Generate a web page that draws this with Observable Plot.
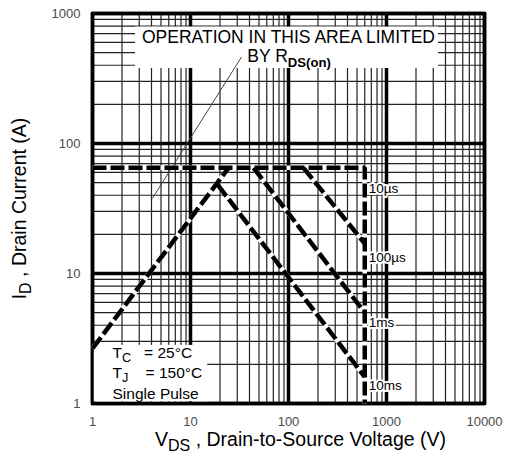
<!DOCTYPE html>
<html><head><meta charset="utf-8">
<script src="https://cdn.jsdelivr.net/npm/d3@7"></script>
<script src="https://cdn.jsdelivr.net/npm/@observablehq/plot@0.6"></script>
<style>
html,body{margin:0;padding:0;background:#fff;}
svg text{white-space:pre;}
</style></head><body><div id="chart"></div>
<script>
// ---- axis ticks / grid values ----
const vdsTicks = [1, 10, 100, 1000, 10000];
const idTicks = [1, 10, 100, 1000];
const vdsMinor = [2,3,4,5,6,7,8,9,20,30,40,50,60,70,80,90,200,300,400,500,600,700,800,900,2000,3000,4000,5000,6000,7000,8000,9000];
const idMinor = [2,3,4,5,6,7,8,9,20,30,40,50,60,70,80,90,200,300,400,500,600,700,800,900];

// ---- SOA boundary curves (VDS in V, ID in A) ----
const curveNames = ["RDS(on) limit", "10µs", "100µs", "1ms", "10ms"];
const curveVds = [[1, 24.5], [1, 600, 600], [142, 600], [44, 600], [19, 600]];
const curveId  = [[2.65, 65], [65, 65, 1], [65, 17], [65, 5.0], [48, 1.6]];

// thin RDS(on) pointer line
const pointerVds = [4.1, 33];
const pointerId = [38, 460];

// pulse-width labels
const pulseLabels = ["10µs", "100µs", "1ms", "10ms"];
const pulseLabelVds = [600, 600, 600, 600];
const pulseLabelId = [45, 13.3, 4.2, 1.37];

// area note
const noteText = ["OPERATION IN THIS AREA LIMITED", "BY R_!{DS(on)}"];
const noteVds = [100, 38];
const noteId = [660, 464];

// conditions
const condText = ["T_{C}   = 25°C", "T_{J}    = 150°C", "Single Pulse"];
const condVds = [1.6, 1.6, 1.6];
const condId = [2.45, 1.73, 1.19];

const xLabel = "V_{DS} , Drain-to-Source Voltage (V)";
const yLabel = "I_{D} , Drain Current (A)";

// ---- build tables ----
const curveRows = curveNames.flatMap((name, i) =>
  curveVds[i].map((v, j) => ({name, vds: v, id: curveId[i][j]})));
const pointerRows = pointerVds.map((v, i) => ({vds: v, id: pointerId[i]}));
const pulseRows = pulseLabels.map((t, i) => ({t, vds: pulseLabelVds[i], id: pulseLabelId[i]}));
const noteRows = noteText.map((t, i) => ({t, vds: noteVds[i], id: noteId[i]}));
const condRows = condText.map((t, i) => ({t, vds: condVds[i], id: condId[i]}));

const font = "'Liberation Sans', Arial, Helvetica, sans-serif";
const M = {left: 92, right: 25, top: 13, bottom: 57, width: 509, height: 460};

const chart = Plot.plot({
  width: M.width,
  height: M.height,
  marginLeft: M.left,
  marginRight: M.right,
  marginTop: M.top,
  marginBottom: M.bottom,
  style: {fontFamily: font, fontSize: "13px", color: "#4a4a4a", background: "white", overflow: "visible"},
  x: {type: "log", domain: [1, 10000], ticks: vdsTicks, tickFormat: d => String(d), tickSize: 0, tickPadding: 13, label: null},
  y: {type: "log", domain: [1, 1000], ticks: idTicks, tickFormat: d => String(d), tickSize: 0, tickPadding: 12, label: null},
  marks: [
    Plot.ruleX(vdsMinor, {stroke: "#222", strokeWidth: 1.2}),
    Plot.ruleY(idMinor, {stroke: "#222", strokeWidth: 1.2}),
    Plot.ruleX(vdsTicks, {stroke: "black", strokeWidth: 3.5}),
    Plot.ruleY(idTicks, {stroke: "black", strokeWidth: 3.5}),
    Plot.frame({stroke: "black", strokeWidth: 3.5}),
    Plot.line(pointerRows, {x: "vds", y: "id", stroke: "#444", strokeWidth: 1}),
    Plot.line(curveRows, {x: "vds", y: "id", z: "name", stroke: "white", strokeWidth: 4.5, strokeLinecap: "butt", strokeLinejoin: "miter"}),
    Plot.line(curveRows, {x: "vds", y: "id", z: "name", stroke: "black", strokeWidth: 4.5, strokeDasharray: "14,4", strokeLinecap: "butt", strokeLinejoin: "miter"}),
    Plot.text(noteRows.slice(0, 1), {x: "vds", y: "id", text: "t", lineAnchor: "middle", textAnchor: "middle", fontSize: 17.5, fill: "black"}),
    Plot.text(noteRows.slice(1), {x: "vds", y: "id", text: "t", lineAnchor: "middle", textAnchor: "start", fontSize: 17.5, fill: "black"}),
    Plot.text(condRows, {x: "vds", y: "id", text: "t", lineAnchor: "middle", textAnchor: "start", fontSize: 15.5, fill: "black"}),
    Plot.text(pulseRows, {x: "vds", y: "id", text: "t", lineAnchor: "middle", textAnchor: "start", dx: 4, fontSize: 13.5, fill: "black", stroke: "white", strokeWidth: 4, strokeLinejoin: "round"}),
    Plot.text([xLabel], {frameAnchor: "bottom", text: d => d, textAnchor: "middle", lineAnchor: "middle", dx: 12, dy: 36, fontSize: 19.5, fill: "black"}),
    Plot.text([yLabel], {frameAnchor: "left", text: d => d, textAnchor: "middle", lineAnchor: "middle", rotate: -90, dx: -73, fontSize: 19.5, fill: "black"})
  ]
});

document.getElementById("chart").appendChild(chart);

const stripMarks = s => s.replace(/_!?\{([^}]*)\}/g, "$1");

// subscripts: "_{..}" normal, "_!{..}" bold
function subscriptify(svg) {
  svg.querySelectorAll("text").forEach(t => {
    const s = t.textContent;
    if (!/_!?\{/.test(s)) return;
    const fs = parseFloat(getComputedStyle(t).fontSize) || 16;
    const shift = 0.26 * fs;
    while (t.firstChild) t.removeChild(t.firstChild);
    const ns = "http://www.w3.org/2000/svg";
    const re = /_(!?)\{([^}]*)\}/g;
    let last = 0, m, pendingDy = 0;
    const add = (str, dy, size, bold) => {
      const sp = document.createElementNS(ns, "tspan");
      sp.textContent = str;
      if (dy) sp.setAttribute("dy", dy);
      if (size) sp.setAttribute("font-size", size);
      if (bold) sp.setAttribute("font-weight", "bold");
      t.appendChild(sp);
    };
    while ((m = re.exec(s))) {
      if (m.index > last) { add(s.slice(last, m.index), pendingDy); pendingDy = 0; }
      add(m[2], shift + pendingDy, m[1] ? 0.75 * fs : 0.82 * fs, !!m[1]);
      pendingDy = -shift;
      last = re.lastIndex;
    }
    if (last < s.length) add(s.slice(last), pendingDy);
  });
}
subscriptify(chart);

// white background panels behind the boxed annotations (sized from the text extents)
function topChild(el) {
  while (el.parentNode && el.parentNode !== chart) el = el.parentNode;
  return el;
}
function addPanel(texts, pad) {
  const wanted = new Set(texts.map(stripMarks));
  const els = [...chart.querySelectorAll("text")].filter(t => wanted.has(t.textContent));
  if (!els.length) return;
  const inv = chart.getScreenCTM().inverse();
  let x0 = Infinity, y0 = Infinity, x1 = -Infinity, y1 = -Infinity;
  els.forEach(el => {
    const b = el.getBBox();
    const m = inv.multiply(el.getScreenCTM());
    [[b.x, b.y], [b.x + b.width, b.y], [b.x, b.y + b.height], [b.x + b.width, b.y + b.height]].forEach(([px, py]) => {
      const X = m.a * px + m.c * py + m.e, Y = m.b * px + m.d * py + m.f;
      x0 = Math.min(x0, X); y0 = Math.min(y0, Y); x1 = Math.max(x1, X); y1 = Math.max(y1, Y);
    });
  });
  // keep inside the plotting frame
  const fx0 = M.left + 1.75, fx1 = M.width - M.right - 1.75, fy0 = M.top + 1.75, fy1 = M.height - M.bottom - 1.75;
  const rx0 = Math.max(fx0, x0 - pad[3]), rx1 = Math.min(fx1, x1 + pad[1]);
  const ry0 = Math.max(fy0, y0 - pad[0]), ry1 = Math.min(fy1, y1 + pad[2]);
  const r = document.createElementNS("http://www.w3.org/2000/svg", "rect");
  r.setAttribute("x", rx0);
  r.setAttribute("y", ry0);
  r.setAttribute("width", rx1 - rx0);
  r.setAttribute("height", ry1 - ry0);
  r.setAttribute("fill", "white");
  // insert just before the first curve line group (above grid, below curves/text)
  const firstLine = chart.querySelector('g[aria-label="line"]');
  if (firstLine) chart.insertBefore(r, topChild(firstLine)); else chart.appendChild(r);
}
addPanel(noteText, [0, 3, -2, 7]);
addPanel(condText, [-1, 5, 6, 30]);
</script>
</body></html>
